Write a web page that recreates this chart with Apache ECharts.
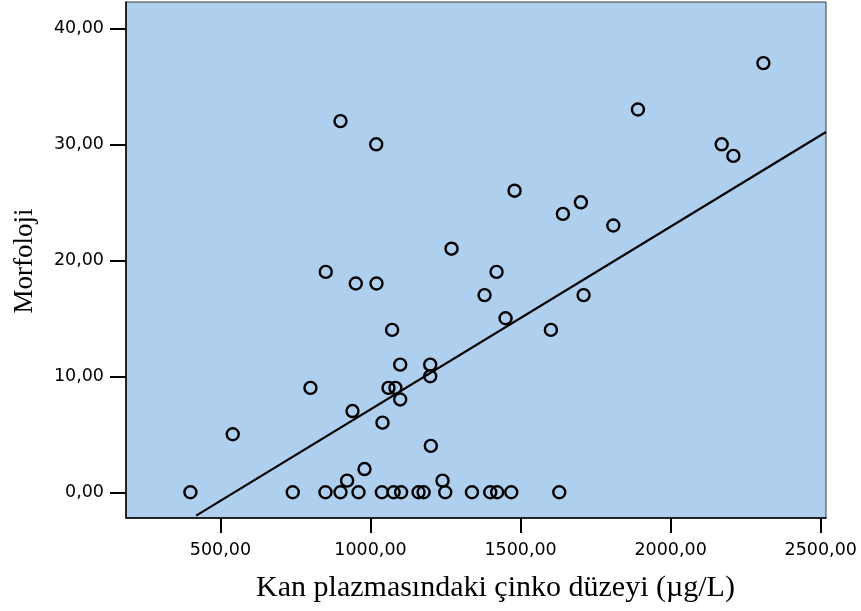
<!DOCTYPE html>
<html><head><meta charset="utf-8">
<script src="https://cdn.jsdelivr.net/npm/echarts@6/dist/echarts.min.js"></script>
<style>html,body{margin:0;padding:0;background:#fff}#c{width:861px;height:611px}</style>
</head><body><div id="c"></div>
<script>
// Kan plazmasındaki çinko düzeyi (µg/L) vs Morfoloji
const zincLevel = [400, 741, 850, 900, 960, 1038, 1077, 1102, 1160, 1177, 1249, 1338, 1399, 1422, 1469, 1629,
  922, 980, 1240, 1201, 800, 1072, 1099, 1199, 1199, 1060, 1083, 1099, 940, 1040, 541,
  900, 1019, 1480, 1270, 851, 1420, 951, 1020, 1380, 1450, 1641, 1701, 1809, 1710, 1601,
  2309, 1891, 2170, 2209];
const morphology = [0, 0, 0, 0, 0, 0, 0, 0, 0, 0, 0, 0, 0, 0, 0, 0,
  1, 2, 1, 4, 9, 14, 11, 11, 10, 9, 9, 8, 7, 6, 5,
  32, 30, 26, 21, 19, 19, 18, 18, 17, 15, 24, 25, 23, 17, 14,
  37, 33, 30, 29];
const fitLine = [[419, -2.02], [2517.6, 31.06]];
const xTicks = [500, 1000, 1500, 2000, 2500];
const yTicks = [0, 10, 20, 30, 40];
const xTitle = 'Kan plazmasındaki çinko düzeyi (µg/L)';
const yTitle = 'Morfoloji';

const points = zincLevel.map((x, i) => [x, morphology[i]]);
const fmt = v => Number(v).toFixed(2).replace('.', ',');
const labelFont = { fontFamily: 'DejaVu Sans', fontSize: 17.5, color: '#000' };

const chart = echarts.init(document.getElementById('c'), null, { renderer: 'canvas' });
chart.setOption({
  animation: false,
  backgroundColor: '#fff',
  grid: { left: 126, top: 2, width: 700, height: 516, show: true,
    backgroundColor: '#aecfed', borderColor: '#3a3a3a', borderWidth: 1 },
  xAxis: {
    type: 'value', min: 185.4, max: 2517.6,
    axisLine: { onZero: false, lineStyle: { color: '#000', width: 1.5 } },
    axisTick: { show: true, length: 15, customValues: xTicks, lineStyle: { color: '#000', width: 2 } },
    axisLabel: Object.assign({ customValues: xTicks, margin: 23, formatter: fmt }, labelFont),
    splitLine: { show: false }
  },
  yAxis: {
    type: 'value', min: -2.22, max: 42.27,
    axisLine: { onZero: false, lineStyle: { color: '#000', width: 1.5 } },
    axisTick: { show: true, length: 16, customValues: yTicks, lineStyle: { color: '#000', width: 2 } },
    axisLabel: Object.assign({ customValues: yTicks, margin: 22, formatter: fmt }, labelFont),
    splitLine: { show: false }
  },
  graphic: [
    { type: 'text', x: 495.5, y: 588, style: { text: xTitle, fontFamily: 'Liberation Serif', fontSize: 30,
      fill: '#000', align: 'center', verticalAlign: 'middle' } },
    { type: 'text', x: 25, y: 261, rotation: Math.PI / 2, style: { text: yTitle, fontFamily: 'Liberation Serif', fontSize: 27,
      fill: '#000', align: 'center', verticalAlign: 'middle' } }
  ],
  series: [
    { type: 'line', data: fitLine, showSymbol: false, symbol: 'none', silent: true, z: 2,
      lineStyle: { color: '#000', width: 2.2 } },
    { type: 'scatter', data: points, symbol: 'circle', symbolSize: 12, z: 3,
      itemStyle: { color: 'rgba(0,0,0,0)', borderColor: '#000', borderWidth: 2.4, opacity: 1 } }
  ]
});
</script>
</body></html>
